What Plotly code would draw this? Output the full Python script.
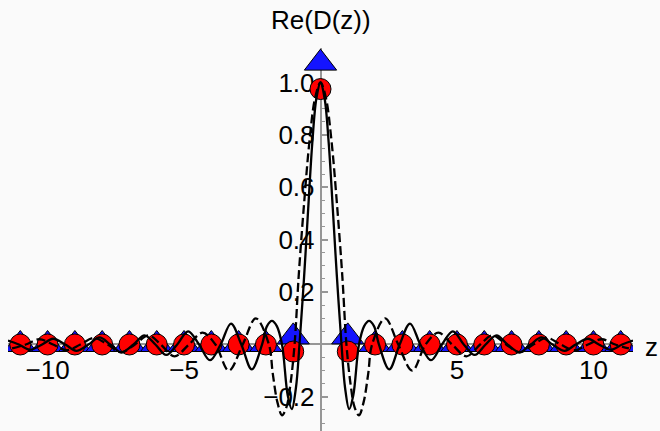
import plotly.graph_objects as go

# ---- data (z >= 0 half; curves are even) ----
solid_z = [0, 0.15, 0.3, 0.45, 0.6, 0.77, 0.9, 1.05, 1.2, 1.41, 1.6, 1.78, 1.96, 2.14,
           2.52, 2.9, 3.28, 3.66, 4.05, 4.45, 4.85, 5.25, 5.65, 6.05, 6.45, 6.85,
           7.3, 7.7, 8.1, 8.5, 8.95, 9.35, 9.8, 10.2, 10.65, 11.05, 11.45]
solid_v = [1.0, 0.94, 0.77, 0.52, 0.26, 0.0, -0.165, -0.247, -0.195, 0.0, 0.07, 0.09, 0.07, 0.0,
           -0.095, 0.0, 0.08, 0.0, -0.06, 0.0, 0.05, 0.0, -0.04, 0.0, 0.035, 0.0,
           -0.03, 0.0, 0.027, 0.0, -0.024, 0.0, 0.022, 0.0, -0.02, 0.0, 0.015]

dashed_z = [0, 0.2, 0.4, 0.6, 0.8, 0.95, 1.1, 1.25, 1.41, 1.58, 1.75, 1.89, 2.37, 2.85,
            3.36, 3.85, 4.32, 4.82, 5.35, 5.85, 6.3, 6.8, 7.3, 7.8, 8.3, 8.8, 9.3, 9.8,
            10.3, 10.8, 11.3]
dashed_v = [1.0, 0.94, 0.78, 0.54, 0.26, 0.0, -0.15, -0.24, -0.27, -0.22, -0.11, 0.0, 0.10, 0.0,
            -0.10, 0.0, 0.045, 0.0, -0.045, 0.0, 0.035, 0.0, -0.03, 0.0, 0.025, 0.0, -0.022, 0.0,
            0.02, 0.0, -0.015]

sample_n = [-11, -10, -9, -8, -7, -6, -5, -4, -3, -2, -1, 0, 1, 2, 3, 4, 5, 6, 7, 8, 9, 10, 11]
circle_v = [0, 0, 0, 0, 0, 0, 0, 0, 0, 0, -0.027, 0.975, -0.027, 0, 0, 0, 0, 0, 0, 0, 0, 0, 0]
triangle_v = [0, 0, 0, 0, 0, 0, 0, 0, 0, 0, 0.029, 1.074, 0.029, 0, 0, 0, 0, 0, 0, 0, 0, 0, 0]

x_tickvals = [-10, -5, 5, 10]
x_ticktext = ["\u221210", "\u22125", "5", "10"]
y_tickvals = [-0.2, 0.2, 0.4, 0.6, 0.8, 1.0]
y_ticktext = ["\u22120.2", "0.2", "0.4", "0.6", "0.8", "1.0"]

def mirror(zs, vs):
    zz = [-z for z in reversed(zs[1:])] + list(zs)
    vv = list(reversed(vs[1:])) + list(vs)
    return zz, vv

sz, sv = mirror(solid_z, solid_v)
dz, dv = mirror(dashed_z, dashed_v)

XR = [-11.45, 11.45]
YR = [-0.3302, 1.1317]
FONT = "Liberation Sans, Arial, Helvetica, sans-serif"
AX = "rgb(150,150,150)"

fig = go.Figure()
fig.add_trace(go.Scatter(x=sample_n, y=triangle_v, mode="markers",
                         marker=dict(symbol="triangle-up", size=28, color="rgb(20,20,255)",
                                     line=dict(color="black", width=1)),
                         showlegend=False, hoverinfo="skip"))
fig.add_trace(go.Scatter(x=sample_n, y=circle_v, mode="markers",
                         marker=dict(symbol="circle", size=21, color="rgb(255,0,0)",
                                     line=dict(color="black", width=1)),
                         showlegend=False, hoverinfo="skip"))
fig.add_trace(go.Scatter(x=dz, y=dv, mode="lines",
                         line=dict(color="black", width=2.3, dash="9px,4px", shape="spline", smoothing=1),
                         showlegend=False, hoverinfo="skip"))
fig.add_trace(go.Scatter(x=sz, y=sv, mode="lines",
                         line=dict(color="black", width=2.3, shape="spline", smoothing=1),
                         showlegend=False, hoverinfo="skip"))

ypos = (0 - YR[0]) / (YR[1] - YR[0])
xpos = (0 - XR[0]) / (XR[1] - XR[0])

fig.update_layout(
    width=660, height=431,
    margin=dict(l=8, r=27, t=48, b=0),
    paper_bgcolor="#fafafa", plot_bgcolor="#fafafa",
    font=dict(family=FONT, size=26, color="black"),
    xaxis=dict(range=XR, anchor="free", position=ypos, showgrid=False, zeroline=False,
               showline=True, linecolor=AX, linewidth=1.5,
               tickmode="array", tickvals=x_tickvals, ticktext=x_ticktext,
               ticks="inside", ticklen=7, tickcolor=AX, tickwidth=1.5,
               minor=dict(ticks="inside", dtick=1, ticklen=4, tickcolor=AX, tickwidth=1),
               ticklabelstandoff=3, layer="below traces",
               tickfont=dict(size=26)),
    yaxis=dict(range=YR, anchor="free", position=xpos, showgrid=False, zeroline=False,
               showline=True, linecolor=AX, linewidth=1.5,
               tickmode="array", tickvals=y_tickvals, ticktext=y_ticktext,
               ticks="inside", ticklen=7, tickcolor=AX, tickwidth=1.5,
               minor=dict(ticks="inside", dtick=0.05, ticklen=4, tickcolor=AX, tickwidth=1),
               layer="below traces", tickfont=dict(size=26)),
    annotations=[
        dict(text="Re(D(z))", xref="x", yref="paper", x=0, y=1.0744, xanchor="center", yanchor="middle",
             showarrow=False, font=dict(size=26)),
        dict(text="z", xref="paper", yref="paper", x=1.0288, y=0.2206, xanchor="center", yanchor="middle",
             showarrow=False, font=dict(size=26)),
    ],
)

fig.write_html("out.html", config={"displayModeBar": False},
               post_script="document.body.style.margin='0px'; document.body.style.background='#fafafa';")
